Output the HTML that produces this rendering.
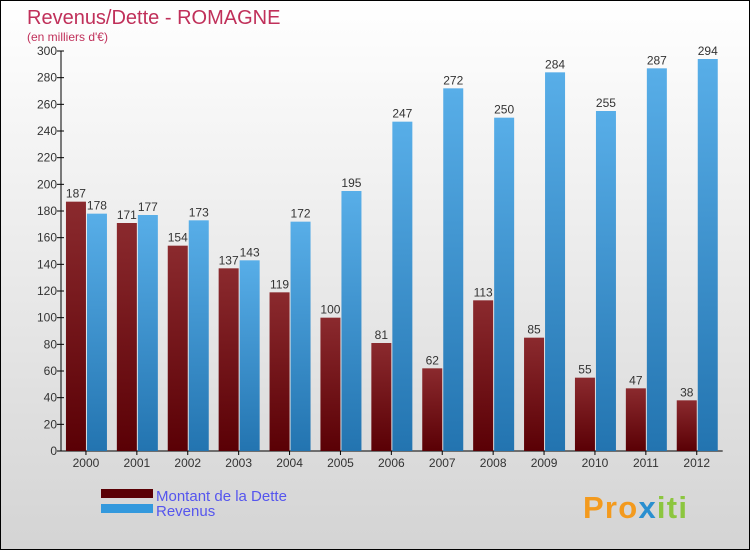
<!DOCTYPE html>
<html><head><meta charset="utf-8"><style>
body{margin:0;}
#c{width:750px;height:550px;position:relative;background:linear-gradient(#ffffff,#d4d4d4);border:1px solid #000;box-sizing:border-box;overflow:hidden;font-family:"Liberation Sans",sans-serif;}
</style></head><body>
<div id="c">
<svg id="s" width="750" height="550" style="position:absolute;left:0;top:0">
<defs>
<linearGradient id="gd" x1="0" y1="0" x2="0" y2="1"><stop offset="0" stop-color="#8b2a2e"/><stop offset="1" stop-color="#5a0005"/></linearGradient>
<linearGradient id="gr" x1="0" y1="0" x2="0" y2="1"><stop offset="0" stop-color="#58aee8"/><stop offset="1" stop-color="#2374b0"/></linearGradient>
</defs>
<text x="26" y="23" font-size="20" fill="#c0305a">Revenus/Dette - ROMAGNE</text>
<text x="26" y="40" font-size="12" fill="#c0305a">(en milliers d'€)</text>
<rect x="100" y="488" width="52" height="9" fill="#5a0005"/>
<rect x="100" y="503" width="52" height="9" fill="#3399dd"/>
<text x="155" y="500" font-size="15" fill="#5555ee">Montant de la Dette</text>
<text x="155" y="515" font-size="15" fill="#5555ee">Revenus</text>
<text x="582" y="517" font-size="31" font-weight="bold" fill="#f39a1e" textLength="104">Pro<tspan fill="#2a8fd0">x</tspan><tspan fill="#8cc63f">iti</tspan></text>
</svg>
</div>
<script>
const years=["2000","2001","2002","2003","2004","2005","2006","2007","2008","2009","2010","2011","2012"];
const dette=[187,171,154,137,119,100,81,62,113,85,55,47,38];
const revenus=[178,177,173,143,172,195,247,272,250,284,255,287,294];
const yTicks=[0,20,40,60,80,100,120,140,160,180,200,220,240,260,280,300];
const NS="http://www.w3.org/2000/svg";
const s=document.getElementById('s');
const x0=60,step=50.9,y0=450,yMax=300,ph=400;
const Y=v=>y0-v/yMax*ph;
function mk(t,a){const e=document.createElementNS(NS,t);for(const k in a)e.setAttribute(k,a[k]);s.appendChild(e);return e;}
let ax=mk('line',{x1:x0,y1:Y(300),x2:x0,y2:y0,stroke:'#000'});


let bx=mk('line',{x1:x0,y1:y0,x2:x0+step*years.length,y2:y0,stroke:'#000'});


yTicks.forEach(v=>{
 let tk=mk('line',{x1:x0-4,y1:Y(v),x2:x0+3,y2:Y(v),stroke:'#000'});
 
 
 let t=mk('text',{x:x0-4,y:Y(v)+4,'font-size':12,'text-anchor':'end',fill:'#333'});t.textContent=v;
 
 
});
years.forEach((yr,i)=>{
 const c=x0+step*(i+0.5)-0.5;
 let d=mk('rect',{x:c-20,y:Y(dette[i]),width:20,height:y0-Y(dette[i]),fill:'url(#gd)'});
 
 
 let r=mk('rect',{x:c+1,y:Y(revenus[i]),width:20,height:y0-Y(revenus[i]),fill:'url(#gr)'});
 
 
 let ld=mk('text',{x:c-10,y:Y(dette[i])-4,'font-size':12,'text-anchor':'middle',fill:'#333'});ld.textContent=dette[i];
 
 
 let lr=mk('text',{x:c+11,y:Y(revenus[i])-4,'font-size':12,'text-anchor':'middle',fill:'#333'});lr.textContent=revenus[i];
 
 
 let xt=mk('line',{x1:c,y1:y0,x2:c,y2:y0+4,stroke:'#000'});
 
 
 let xl=mk('text',{x:c,y:y0+16,'font-size':12,'text-anchor':'middle',fill:'#333'});xl.textContent=yr;
 
 
});
</script>
</body></html>
